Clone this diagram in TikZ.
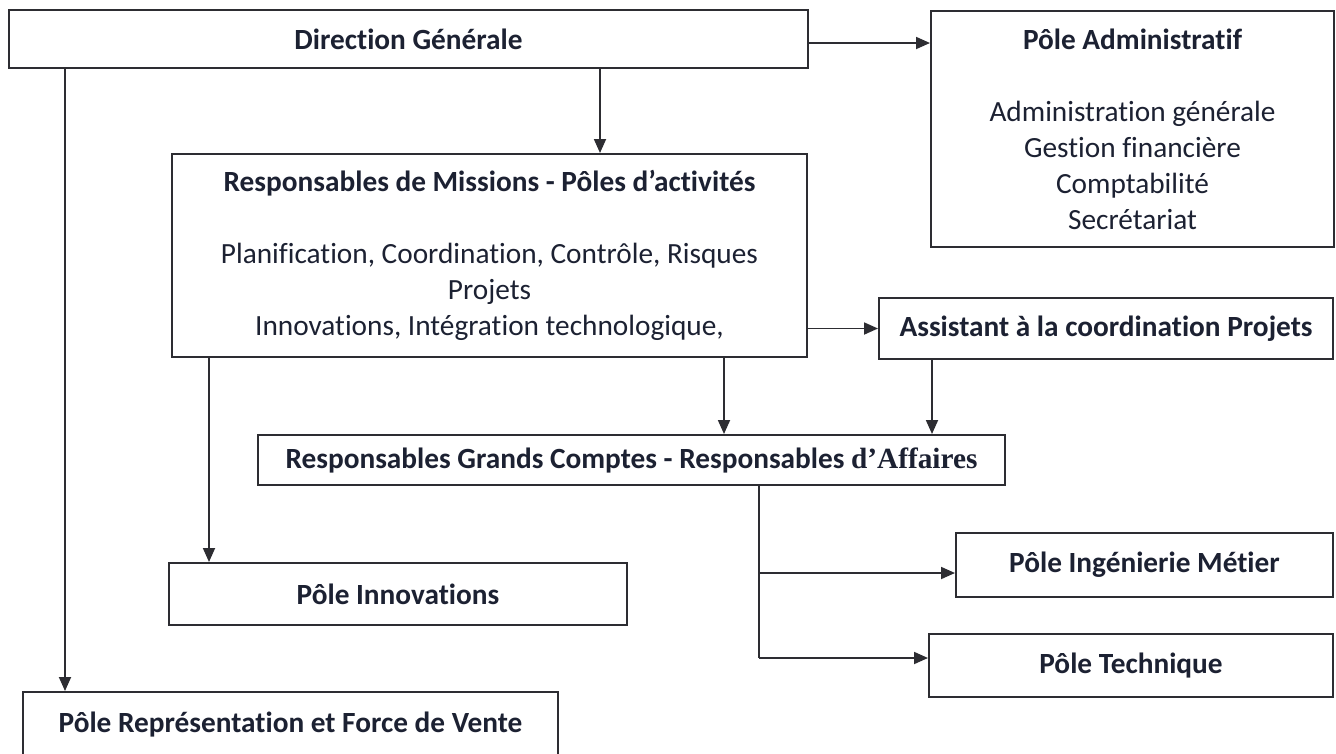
\documentclass[tikz,border=0pt]{standalone}
\usepackage{fontspec}
\setmainfont{Carlito}[Ligatures=NoCommon]
\newfontfamily\timesf{Liberation Serif}
\usetikzlibrary{arrows.meta,calc}
\definecolor{ink}{RGB}{28,33,50}
\definecolor{edge}{RGB}{45,45,50}
\begin{document}
\begin{tikzpicture}[x=1pt,y=-1pt,
  box/.style={draw=edge,line width=2pt,fill=white,inner sep=0pt,text=ink,align=center,
    font=\fontsize{29.3}{36}\selectfont},
  arr/.style={draw=edge,line width=1.8pt,-{Triangle[length=14pt,width=12pt]}},
  ln/.style={draw=edge,line width=1.8pt}]
\useasboundingbox (0,0) rectangle (1336,753);
\clip (0,0) rectangle (1336,753);
\fill[white] (0,0) rectangle (1336,753);
% boxes
\node[box,minimum width=799pt,minimum height=58pt] (dg) at (408.5,39) {\bfseries Direction Générale};
\node[box,minimum width=403pt,minimum height=236pt] (pa) at (1132.5,129)
  {\bfseries Pôle Administratif\\[36pt] Administration générale\\ Gestion financière\\ Comptabilité\\ Secrétariat};
\node[box,minimum width=635pt,minimum height=203pt] (rm) at (489.5,255.5)
  {\bfseries Responsables de Missions - Pôles d’activités\\[36pt] Planification, Coordination, Contrôle, Risques\\ Projets\\ Innovations, Intégration technologique,};
\node[box,minimum width=454pt,minimum height=61pt] (as) at (1106,328.5) {\bfseries Assistant à la coordination Projets};
\node[box,minimum width=747pt,minimum height=50pt] (gc) at (631.5,460)
  {\bfseries Responsables Grands Comptes - Responsables {\timesf d’Affaires}};
\node[box,minimum width=458pt,minimum height=62pt] (in) at (398,594) {\bfseries Pôle Innovations};
\node[box,minimum width=377pt,minimum height=64pt] (ing) at (1144.5,565) {\bfseries Pôle Ingénierie Métier};
\node[box,minimum width=404pt,minimum height=63pt] (te) at (1131,665.5) {\bfseries Pôle Technique};
\node[box,minimum width=535pt,minimum height=66pt] (rep) at (290.5,725) {\bfseries Pôle Représentation et Force de Vente};
% helper coordinates
\coordinate (xl) at (65,0);
\coordinate (xd) at (600,0);
\coordinate (xi) at (209,0);
\coordinate (xr) at (724,0);
\coordinate (xa) at (932,0);
\coordinate (b1) at (759,573);
\coordinate (b2) at (759,658);
% connectors
\draw[arr] (dg.east |- 0,43) -- (pa.west |- 0,43);
\draw[arr] (dg.south -| xd) -- (rm.north -| xd);
\draw[arr] (dg.south -| xl) -- (rep.north -| xl);
\draw[arr] (rm.east |- as.west) -- (as.west);
\draw[arr] (rm.south -| xi) -- (in.north -| xi);
\draw[arr] (rm.south -| xr) -- (gc.north -| xr);
\draw[arr] (as.south -| xa) -- (gc.north -| xa);
\draw[ln] (gc.south -| b1) -- (b2);
\draw[arr] (b1) -- (b1 -| ing.west);
\draw[arr] (b2) -- (b2 -| te.west);
\end{tikzpicture}
\end{document}
